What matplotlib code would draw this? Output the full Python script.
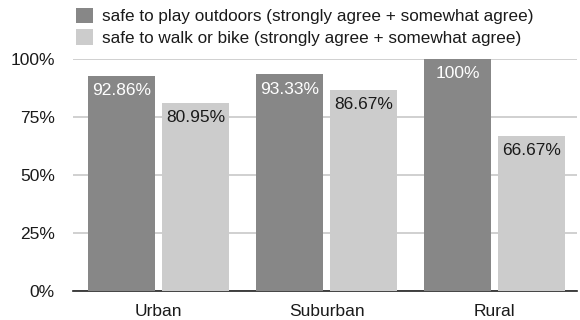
import matplotlib
matplotlib.use("Agg")
import matplotlib.pyplot as plt
from matplotlib.patches import Patch
import numpy as np

plt.rcParams['font.family'] = ['Liberation Sans', 'DejaVu Sans']

categories = ["Urban", "Suburban", "Rural"]
play_outdoors = [92.86, 93.33, 100.0]
walk_or_bike = [80.95, 86.67, 66.67]
series_labels = [
    "safe to play outdoors (strongly agree + somewhat agree)",
    "safe to walk or bike (strongly agree + somewhat agree)",
]
y_ticks = [0, 25, 50, 75, 100]
y_tick_labels = ["0%", "25%", "50%", "75%", "100%"]

dark = "#878787"
light = "#cccccc"
text_dark = "#1a1a1a"

W, H = 580, 320
fig = plt.figure(figsize=(W / 100, H / 100), dpi=100)
ax = fig.add_axes([73 / W, (H - 291) / H, 504 / W, 232 / H])

x = np.arange(len(categories))
bw = 0.40
off = 0.221
b1 = ax.bar(x - off, play_outdoors, width=bw, color=dark, zorder=2)
b2 = ax.bar(x + off, walk_or_bike, width=bw, color=light, zorder=2)

def fmt(v):
    return f"{v:g}%" if float(v).is_integer() else f"{v:.2f}%"

for rect, v in zip(b1, play_outdoors):
    ax.annotate(fmt(v), (rect.get_x() + rect.get_width() / 2, v),
                xytext=(0, -10.5), textcoords="offset points",
                ha="center", va="center", color="white", fontsize=12.5, zorder=3)
for rect, v in zip(b2, walk_or_bike):
    ax.annotate(fmt(v), (rect.get_x() + rect.get_width() / 2, v),
                xytext=(0, -10.5), textcoords="offset points",
                ha="center", va="center", color=text_dark, fontsize=12.5, zorder=3)

ax.set_xlim(-0.51, 2.49)
ax.set_ylim(0, 100)
ax.set_yticks(y_ticks)
ax.set_yticklabels(y_tick_labels)
ax.set_xticks(x)
ax.set_xticklabels(categories)
ax.tick_params(axis="both", length=0, labelsize=12.5, colors=text_dark)
ax.tick_params(axis="y", pad=13)
ax.tick_params(axis="x", pad=9.5)

ax.yaxis.grid(True, color="#c8c8c8", linewidth=1.2, zorder=0)
ax.set_axisbelow(True)
for s in ["top", "right", "left"]:
    ax.spines[s].set_visible(False)
ax.spines["bottom"].set_color("#222222")
ax.spines["bottom"].set_linewidth(1.2)
ax.spines["bottom"].set_zorder(1)

handles = [Patch(facecolor=dark), Patch(facecolor=light)]
fig.legend(handles, series_labels, loc="upper left",
           bbox_to_anchor=(76 / W, 1 - 8 / H), frameon=False,
           fontsize=12.3, handlelength=1.0, handleheight=1.0,
           handletextpad=0.5, labelspacing=0.28, borderpad=0,
           borderaxespad=0, labelcolor=text_dark)

fig.savefig("out.png", dpi=100)
